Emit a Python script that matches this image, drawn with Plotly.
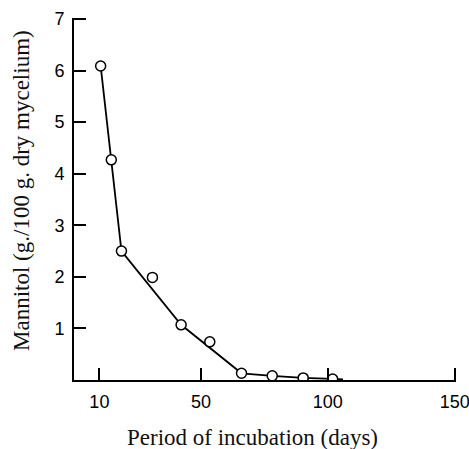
import plotly.graph_objects as go

# Observed points (days, mannitol g/100 g dry mycelium)
days = [10.5, 14.7, 18.7, 30.9, 42.2, 53.5, 66.0, 78.1, 90.3, 101.9]
mannitol = [6.09, 4.27, 2.50, 1.99, 1.07, 0.74, 0.13, 0.08, 0.04, 0.02]

# Drawn curve (passes through selected points)
curve_days = [10.5, 14.7, 18.7, 42.2, 66.0, 78.1, 90.3, 101.9, 106.0]
curve_vals = [6.09, 4.27, 2.50, 1.07, 0.13, 0.08, 0.04, 0.02, 0.01]

x_ticks = [10, 50, 100, 150]
y_ticks = [1, 2, 3, 4, 5, 6, 7]

x_title = "Period of incubation (days)"
y_title = "Mannitol (g./100 g. dry mycelium)"

fig = go.Figure()
fig.add_trace(go.Scatter(x=curve_days, y=curve_vals, mode="lines",
                         line=dict(color="black", width=1.8), showlegend=False,
                         hoverinfo="skip"))
fig.add_trace(go.Scatter(x=days, y=mannitol, mode="markers",
                         marker=dict(symbol="circle", size=10, color="white",
                                     line=dict(color="black", width=1.5)),
                         showlegend=False))

tick_font = dict(family="Liberation Sans", size=18, color="black")
title_font = dict(family="Liberation Serif", size=23, color="#111111")

fig.update_layout(
    width=469, height=449,
    margin=dict(l=74, r=13, t=18, b=69),
    paper_bgcolor="white", plot_bgcolor="white",
    xaxis=dict(range=[0, 150.5], tickvals=x_ticks, ticks="inside", ticklen=12,
               tickwidth=2, tickcolor="black", showline=True, linecolor="black",
               linewidth=2, showgrid=False, zeroline=False, automargin=False,
               tickfont=tick_font, ticklabelstandoff=4,
               ticklabeloverflow="allow"),
    yaxis=dict(range=[0, 7.02], tickvals=y_ticks, ticks="inside", ticklen=12,
               tickwidth=2, tickcolor="black", showline=True, linecolor="black",
               linewidth=2, showgrid=False, zeroline=False, automargin=False,
               tickfont=tick_font, ticklabelstandoff=4,
               ticklabeloverflow="allow"),
    annotations=[
        dict(text=x_title, xref="paper", yref="paper", x=(252 - 74) / 382,
             y=-(437 - 380) / 362, xanchor="center", yanchor="middle",
             showarrow=False, font=title_font),
        dict(text=y_title, xref="paper", yref="paper", x=-(74 - 22) / 382,
             y=(380 - 191) / 362, xanchor="center", yanchor="middle",
             textangle=-90, showarrow=False, font=title_font),
    ],
)

fig.write_html("out.html")
